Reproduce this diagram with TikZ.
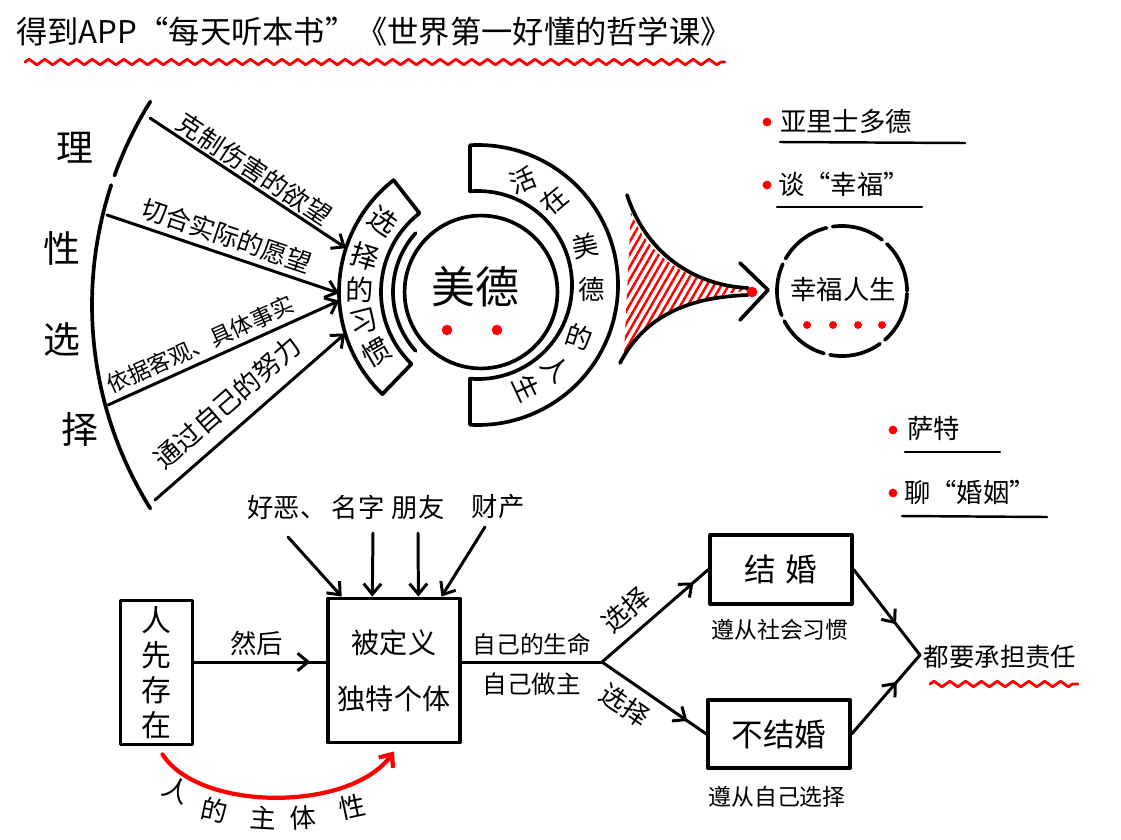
\documentclass[tikz,border=0pt]{standalone}
\usepackage{fontspec}
\setmainfont{Noto Sans CJK SC}
\usetikzlibrary{arrows.meta,decorations.pathmorphing,decorations.markings,patterns.meta,calc}
\newcommand{\myfs}[1]{\fontsize{#1}{#1}\selectfont}
\begin{document}
\begin{tikzpicture}[x=0.02cm,y=-0.02cm,line cap=round,line join=round,
  ink/.style={draw=black,line width=2.1pt},
  arr/.style={line width=1.7pt,-{Straight Barb[length=6pt,width=10pt]}},
  midarr/.style={line width=1.7pt,postaction={decorate},decoration={markings,mark=at position #1 with {\arrow{Straight Barb[length=6pt,width=10pt]}}}},
  wavy/.style={draw=red,line width=1.6pt,decorate,decoration={zigzag,segment length=9pt,amplitude=1.6pt}},
  reddot/.style={fill=red,circle,inner sep=0pt,minimum size=5pt},
  lab/.style={inner sep=1pt},
  ul/.style={line width=1.4pt},
  box/.style={draw,line width=2.2pt,inner sep=0pt}
]
\useasboundingbox[fill=white] (0,0) rectangle (1121,839);

% ---------- title ----------
\node[anchor=west,inner sep=0pt] (title) at (16,32) {\myfs{17.8}得到APP“每天听本书”《世界第一好懂的哲学课》};
\coordinate (tw1) at (25,62);
\coordinate (tw2) at (725,62);
\draw[wavy] (tw1) -- (tw2);

% ---------- fan: rational choice ----------
\coordinate (fc) at (476,305);
\draw[ink] ($(fc)+(-148:384)$) arc[start angle=-148,end angle=-160.3,radius=384];
\draw[ink] ($(fc)+(-161.8:384)$) arc[start angle=-161.8,end angle=-212,radius=384];
\node[lab] (li)   at (75,148) {\myfs{21}理};
\node[lab] (xing) at (62,248) {\myfs{21}性};
\node[lab] (xuan) at (62,340) {\myfs{21}选};
\node[lab] (ze)   at (80,430) {\myfs{21}择};

\coordinate (C) at (481,292);
\coordinate (s1) at (150,118);
\coordinate (s2) at (107,215);
\coordinate (s3) at (108,405);
\coordinate (s4) at (155,500);
\coordinate (e1) at ($(C)+(-162:142)$);
\coordinate (e2) at ($(C)+(-180.5:142)$);
\coordinate (e3) at ($(C)+(-183.5:142)$);
\coordinate (e4) at ($(C)+(-197:142)$);
\draw[arr] (s1) -- (e1) node[pos=0.49,sloped,above,lab] {\myfs{14.5}克制伤害的欲望};
\draw[arr] (s2) -- (e2) node[pos=0.49,sloped,above=2pt,lab] {\myfs{14.5}切合实际的愿望};
\draw[arr] (s3) -- (e3) node[pos=0.43,sloped,above=2pt,lab] {\myfs{12.8}依据客观、具体事实};
\draw[arr] (s4) -- (e4) node[pos=0.47,sloped,above=6pt,lab] {\myfs{15}通过自己的努力};

% ---------- habit of choice box ----------
\draw[ink] ($(C)+(-128:142)$) arc[start angle=-128,end angle=-226,radius=142]
  -- ($(C)+(-226:100)$) arc[start angle=-226,end angle=-128,radius=100] -- cycle;
\foreach \t/\c [count=\i] in {-144/选,-163/择,-179/的,-194/习,-210/惯}
  \node[inner sep=0pt,rotate={0-(\t)-180}] (xg\i) at ($(C)+(\t:121)$) {\myfs{16}\c};

% ---------- virtue circle ----------
\node[circle,ink,minimum size=87pt,inner sep=0pt] (meide) at (C) {};
\node[inner sep=0pt] (meidetxt) at (475,287) {\myfs{25}美德};
\draw[ink] ($(C)+(-138:88)$) arc[start angle=-138,end angle=-222,radius=88];
\node[reddot,minimum size=6pt] (rd1) at (447,330) {};
\node[reddot,minimum size=6pt] (rd2) at (497,330) {};

% ---------- life in virtue box ----------
\coordinate (C2) at (478,285);
\draw[ink] ($(C2)+(-93.3:140)$) arc[start angle=-93.3,end angle=93.3,radius=140]
  -- ($(C2)+(94.9:94)$) arc[start angle=94.9,end angle=-94.9,radius=94] -- cycle;
\foreach \t/\r/\c [count=\i] in {-67/22/活,-48/40/在,-20/12/美,2/0/德,27/-18/的,47/-47/人,65/-65/生}
  \node[inner sep=0pt,rotate=\r] (jy\i) at ($(C2)+(\t:114)$) {\myfs{15}\c};

% ---------- funnel ----------
\fill[pattern={Lines[angle=60,distance=3.6pt,line width=1.4pt]},pattern color=red]
  (631,212) .. controls (648,258) and (692,286) .. (752,290)
  .. controls (692,297) and (645,318) .. (624,354) -- cycle;
\draw[ink] (627,195) .. controls (645,250) and (690,285) .. (748,288);
\draw[ink] (620,363) .. controls (645,315) and (690,297) .. (748,295);
\coordinate (ah1) at (740,263);
\coordinate (ahtip) at (768,290);
\coordinate (ah2) at (740,320);
\draw[ink] (ah1) -- (ahtip) -- (ah2);
\node[reddot,minimum size=6pt] (tipdot) at (752,292) {};

% ---------- happy life ----------
\node[circle,ink,dash pattern=on 30pt off 3.5pt,minimum size=74pt,inner sep=0pt] (xingfu) at (842,291) {};
\node[inner sep=0pt] (xingfutxt) at (843,289) {\myfs{15}幸福人生};
\foreach \x [count=\i] in {807,833,858,882}
  \node[reddot,minimum size=4.5pt] (xd\i) at (\x,325) {};

% ---------- bullets ----------
\node[reddot] (b1) at (767,122) {};
\node[anchor=west,lab] (yali) at (778,121) {\myfs{15}亚里士多德};
\draw[ul] (780,142) -- (965,143);
\node[reddot] (b2) at (767,185) {};
\node[anchor=west,lab] (tan) at (776,184) {\myfs{15}谈“幸福”};
\draw[ul] (777,207) -- (922,207);
\node[reddot] (b3) at (893,430) {};
\node[anchor=west,lab] (sate) at (905,428) {\myfs{15}萨特};
\draw[ul] (905,452) -- (1000,452);
\node[reddot] (b4) at (893,493) {};
\node[anchor=west,lab] (liao) at (902,492) {\myfs{15}聊“婚姻”};
\draw[ul] (902,516) -- (1047,517);

% ---------- bottom flow ----------
\node[box,minimum width=41pt,minimum height=82pt,align=center,font=\fontsize{17}{20}\selectfont] (renxian) at (156.5,672.5) {人\\先\\存\\在};
\node[box,minimum width=75pt,minimum height=82pt,align=center,font=\fontsize{16}{32}\selectfont] (beiding) at (394,670.5) {被定义\\独特个体};
\node[box,minimum width=80.5pt,minimum height=39pt,font=\myfs{18}] (jiehun) at (781,569.5) {结\hspace{5pt}婚};
\node[box,minimum width=80.5pt,minimum height=39pt,font=\myfs{18}] (bujiehun) at (779,734) {不结婚};
\node[lab] (zunshe) at (780,630) {\myfs{13}遵从社会习惯};
\node[lab] (zunzi) at (777,797) {\myfs{13}遵从自己选择};
\node[lab] (dou) at (1000,657) {\myfs{14.5}都要承担责任};
\coordinate (dw1) at (930,684);
\coordinate (dw2) at (1078,684);
\draw[wavy] (dw1) -- (dw2);

\coordinate (split) at (602,662);
\coordinate (conv) at (920,655);

\draw[midarr=0.88] (renxian.east |- split) -- (beiding.west |- split)
  node[pos=0.47,above=1.5pt,lab] {\myfs{15}然后};
\draw[line width=1.7pt] (beiding.east |- split) -- (split)
  node[midway,above=2pt,lab] {\myfs{13.5}自己的生命}
  node[midway,below=4pt,lab] {\myfs{14}自己做主};
\draw[midarr=0.86] (split) -- (jiehun.west) node[pos=0.37,sloped,above=5pt,lab] {\myfs{15}选择};
\draw[midarr=0.82] (split) -- (bujiehun.west) node[pos=0.34,sloped,below=4pt,lab] {\myfs{15}选择};
\draw[midarr=0.64] (jiehun.east) -- (conv);
\draw[midarr=0.66] (bujiehun.east) -- (conv);

% influences
\node[lab] (haowu) at (287,507) {\myfs{15}好恶、};
\node[lab] (mingzi) at (358,507) {\myfs{15}名字};
\node[lab] (pengyou) at (418,507) {\myfs{15}朋友};
\node[lab] (caichan) at (498,507) {\myfs{15}财产};
\coordinate (a1) at (288,537);
\coordinate (a2) at (373,533);
\coordinate (a3) at (418,533);
\coordinate (a4) at (485,527);
\draw[arr] (a1) -- ($(beiding.north west)!0.114!(beiding.north east)$);
\draw[arr] (a2) -- ($(beiding.north west)!0.34!(beiding.north east)$);
\draw[arr] (a3) -- ($(beiding.north west)!0.68!(beiding.north east)$);
\draw[arr] (a4) -- ($(beiding.north west)!0.85!(beiding.north east)$);

% subjectivity curve
\draw[red,line width=2.4pt,-{Straight Barb[length=6pt,width=10pt]}]
  ($(renxian.south)+(6,8)$) .. controls (200,812) and (350,812) .. ($(beiding.south)+(0,7)$);
\foreach \x/\y/\r/\c [count=\i] in {177/790/-25/人,215/810/-12/的,263/818/-3/主,303/818/3/体,352/807/12/性}
  \node[inner sep=0pt,rotate=\r] (zt\i) at (\x,\y) {\myfs{15}\c};
\end{tikzpicture}
\end{document}
